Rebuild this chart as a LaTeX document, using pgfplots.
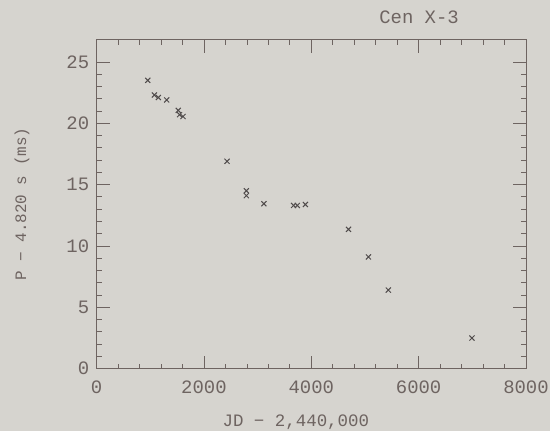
\documentclass[border=0pt]{standalone}
\usepackage{fontspec}
\setmainfont{Liberation Mono}
\usepackage{pgfplots}
\pgfplotsset{compat=1.18}
\definecolor{bg}{RGB}{214,212,207}
\definecolor{ink}{RGB}{110,100,97}
\definecolor{mk}{RGB}{80,75,75}
\begin{document}
\begin{tikzpicture}
\fill[bg] (0,0) rectangle (552pt,433pt);
\begin{axis}[
  at={(97pt,63pt)}, anchor=south west,
  scale only axis, width=431pt, height=330pt,
  xmin=0, xmax=8000, ymin=0, ymax=26.8,
  xtick={0,2000,4000,6000,8000},
  ytick={0,5,10,15,20,25},
  minor x tick num=4, minor y tick num=4,
  tick align=inside,
  major tick length=13pt, minor tick length=5pt,
  axis line style={ink, line width=0.8pt},
  every tick/.style={ink, line width=0.7pt},
  /pgf/number format/assume math mode=true,
  /pgf/number format/1000 sep={},
  ticklabel style={font=\fontsize{19}{20}\selectfont, text=ink},
  xticklabel style={yshift=-9pt},
  yticklabel style={xshift=-4pt},
  title={Cen X-3},
  title style={at={(axis description cs:0.751,1.052)}, anchor=center, font=\fontsize{19}{20}\selectfont, text=ink},
  xlabel={JD − 2,440,000},
  xlabel style={at={(axis description cs:0.464,-0.163)}, anchor=center, font=\fontsize{17.5}{18}\selectfont, text=ink},
  ylabel={P − 4.820 s (ms)},
  ylabel style={at={(axis description cs:-0.174,0.5)}, anchor=center, font=\fontsize{16}{18}\selectfont, text=ink},
]
\addplot[only marks, mark=x, mark size=3.6pt, mk, line width=1pt] coordinates {
 (953,23.5) (1076,22.3) (1150,22.1) (1306,21.9)
 (1520,21.05) (1545,20.7) (1610,20.55)
 (2430,16.9) (2790,14.5) (2790,14.1)
 (3117,13.44) (3670,13.3) (3740,13.3) (3890,13.38)
 (4694,11.35) (5065,9.1) (5436,6.4) (6994,2.49)
};
\end{axis}
\end{tikzpicture}
\end{document}
